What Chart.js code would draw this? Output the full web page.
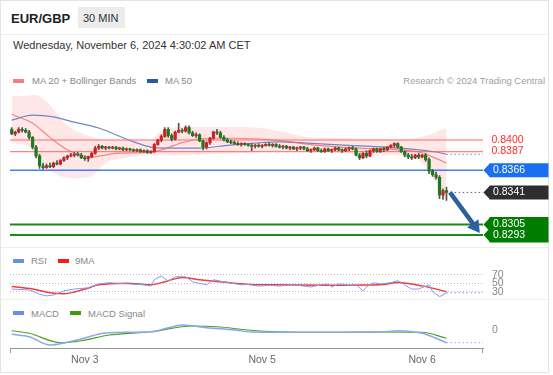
<!DOCTYPE html>
<html>
<head>
<meta charset="utf-8">
<script src="https://cdn.jsdelivr.net/npm/chart.js@4.4.1/dist/chart.umd.min.js"></script>
<style>
  body { margin: 0; width: 553px; height: 375px; background: #fff; font-family: "Liberation Sans", Arial, sans-serif; overflow: hidden; }
  .abs { position: absolute; white-space: nowrap; line-height: 1; }
  .card { position: absolute; left: 0; top: 0; width: 547px; height: 371px; border: 1px solid #e4e4e4; }
  .sep { position: absolute; left: 1px; width: 547px; height: 1px; background: #eeeeee; }
  .sw { position: absolute; width: 11px; height: 4px; }
  .leg { font-size: 9.5px; color: #888; }
  canvas { position: absolute; }
</style>
</head>
<body>
<div class="card"></div>
<div class="abs" style="left:11px;top:12px;font-size:13px;font-weight:bold;color:#222">EUR/GBP</div>
<div class="abs" style="left:78px;top:7px;width:47px;height:21px;background:#ececec"></div>
<div class="abs" style="left:83px;top:12.5px;font-size:11px;color:#333">30 MIN</div>
<div class="sep" style="top:34px"></div>
<div class="abs" style="left:13px;top:40px;font-size:11px;color:#333">Wednesday, November 6, 2024 4:30:02 AM CET</div>

<div class="sw" style="left:13px;top:79px;background:#f37f7f"></div>
<div class="abs leg" style="left:32px;top:76px">MA 20 + Bollinger Bands</div>
<div class="sw" style="left:147px;top:79px;background:#2e5a9c"></div>
<div class="abs leg" style="left:165px;top:76px">MA 50</div>
<div class="abs leg" style="right:8px;top:76px;color:#a0a0a0">Research © 2024 Trading Central</div>

<canvas id="main" width="539" height="153" style="left:10px;top:92px"></canvas>
<div class="sep" style="top:247px"></div>

<div class="sw" style="left:13px;top:259px;background:#6a8fe8"></div>
<div class="abs leg" style="left:31px;top:256px">RSI</div>
<div class="sw" style="left:58px;top:259px;background:#f01e1e"></div>
<div class="abs leg" style="left:75px;top:256px">9MA</div>
<canvas id="rsi" width="539" height="34" style="left:10px;top:264px"></canvas>
<div class="sep" style="top:299px"></div>

<div class="sw" style="left:13px;top:311px;background:#6a8fe8"></div>
<div class="abs leg" style="left:31px;top:309px">MACD</div>
<div class="sw" style="left:70px;top:311px;background:#3c9a0c"></div>
<div class="abs leg" style="left:88px;top:309px">MACD Signal</div>
<canvas id="macd" width="539" height="54" style="left:10px;top:318px"></canvas>

<script>
// 30 min candles, one entry per candle
const opens = [
  0.8412,0.8407,0.8409,0.8412,0.8411,0.8409,0.8403,0.8392,0.8382,0.8371,
  0.8369,0.8371,0.8370,0.8374,0.8373,0.8377,0.8380,0.8382,0.8383,0.8384,
  0.8383,0.8380,0.8379,0.8381,0.8385,0.8391,0.8393,0.8391,0.8392,0.8391,
  0.8392,0.8390,0.8391,0.8389,0.8390,0.8389,0.8388,0.8389,0.8387,0.8388,
  0.8386,0.8387,0.8395,0.8400,0.8404,0.8412,0.8405,0.8401,0.8409,0.8411,
  0.8410,0.8414,0.8408,0.8405,0.8406,0.8399,0.8392,0.8397,0.8402,0.8409,
  0.8408,0.8403,0.8400,0.8398,0.8397,0.8396,0.8395,0.8396,0.8395,0.8394,
  0.8393,0.8394,0.8393,0.8394,0.8395,0.8394,0.8395,0.8393,0.8392,0.8393,
  0.8391,0.8392,0.8390,0.8391,0.8392,0.8390,0.8388,0.8389,0.8391,0.8388,
  0.8387,0.8390,0.8388,0.8389,0.8391,0.8389,0.8388,0.8390,0.8391,0.8390,
  0.8383,0.8380,0.8385,0.8382,0.8388,0.8390,0.8387,0.8390,0.8389,0.8392,
  0.8394,0.8396,0.8392,0.8387,0.8383,0.8381,0.8380,0.8383,0.8381,0.8383,
  0.8378,0.8365,0.8361,0.8358,0.8338,0.8343
];
const highs = [
  0.8414,0.8410,0.8414,0.8414,0.8413,0.8411,0.8404,0.8394,0.8384,0.8374,
  0.8373,0.8374,0.8375,0.8377,0.8378,0.8381,0.8383,0.8385,0.8386,0.8386,
  0.8385,0.8382,0.8382,0.8386,0.8393,0.8395,0.8394,0.8393,0.8393,0.8393,
  0.8393,0.8392,0.8392,0.8391,0.8391,0.8390,0.8390,0.8390,0.8389,0.8389,
  0.8388,0.8396,0.8401,0.8406,0.8414,0.8414,0.8407,0.8410,0.8419,0.8413,
  0.8416,0.8416,0.8410,0.8408,0.8407,0.8400,0.8398,0.8403,0.8410,0.8412,
  0.8410,0.8405,0.8402,0.8400,0.8399,0.8398,0.8397,0.8397,0.8396,0.8396,
  0.8395,0.8396,0.8395,0.8396,0.8397,0.8396,0.8396,0.8395,0.8394,0.8394,
  0.8393,0.8393,0.8392,0.8393,0.8393,0.8392,0.8390,0.8392,0.8392,0.8390,
  0.8391,0.8391,0.8390,0.8392,0.8392,0.8390,0.8391,0.8392,0.8393,0.8391,
  0.8385,0.8386,0.8388,0.8389,0.8391,0.8391,0.8391,0.8392,0.8393,0.8395,
  0.8397,0.8397,0.8393,0.8388,0.8385,0.8384,0.8384,0.8385,0.8384,0.8385,
  0.8380,0.8367,0.8364,0.8360,0.8345,0.8347
];
const lows = [
  0.8406,0.8405,0.8408,0.8409,0.8408,0.8401,0.8390,0.8380,0.8368,0.8367,
  0.8368,0.8369,0.8369,0.8372,0.8372,0.8376,0.8378,0.8381,0.8381,0.8382,
  0.8379,0.8377,0.8376,0.8380,0.8384,0.8389,0.8390,0.8389,0.8390,0.8390,
  0.8389,0.8389,0.8388,0.8388,0.8388,0.8387,0.8387,0.8386,0.8386,0.8385,
  0.8385,0.8386,0.8394,0.8398,0.8403,0.8403,0.8399,0.8400,0.8408,0.8408,
  0.8409,0.8407,0.8404,0.8403,0.8398,0.8389,0.8390,0.8395,0.8401,0.8406,
  0.8402,0.8399,0.8397,0.8396,0.8395,0.8394,0.8393,0.8394,0.8393,0.8388,
  0.8391,0.8392,0.8391,0.8393,0.8393,0.8392,0.8392,0.8391,0.8390,0.8390,
  0.8389,0.8389,0.8388,0.8389,0.8389,0.8387,0.8386,0.8388,0.8387,0.8386,
  0.8386,0.8387,0.8386,0.8388,0.8388,0.8386,0.8387,0.8388,0.8389,0.8382,
  0.8378,0.8379,0.8380,0.8381,0.8386,0.8386,0.8386,0.8387,0.8388,0.8391,
  0.8392,0.8391,0.8386,0.8381,0.8379,0.8378,0.8379,0.8379,0.8380,0.8376,
  0.8362,0.8359,0.8356,0.8334,0.8333,0.8332
];
const closes = [
  0.8407,0.8409,0.8412,0.8411,0.8409,0.8403,0.8392,0.8382,0.8371,0.8369,
  0.8371,0.8370,0.8374,0.8373,0.8377,0.8380,0.8382,0.8383,0.8384,0.8383,
  0.8380,0.8379,0.8381,0.8385,0.8391,0.8393,0.8391,0.8392,0.8391,0.8392,
  0.8390,0.8391,0.8389,0.8390,0.8389,0.8388,0.8389,0.8387,0.8388,0.8386,
  0.8387,0.8395,0.8400,0.8404,0.8412,0.8405,0.8401,0.8409,0.8411,0.8410,
  0.8414,0.8408,0.8405,0.8406,0.8399,0.8392,0.8397,0.8402,0.8409,0.8408,
  0.8403,0.8400,0.8398,0.8397,0.8396,0.8395,0.8396,0.8395,0.8394,0.8393,
  0.8394,0.8393,0.8394,0.8395,0.8394,0.8395,0.8393,0.8392,0.8393,0.8391,
  0.8392,0.8390,0.8391,0.8392,0.8390,0.8388,0.8389,0.8391,0.8388,0.8387,
  0.8390,0.8388,0.8389,0.8391,0.8389,0.8388,0.8390,0.8391,0.8390,0.8383,
  0.8380,0.8385,0.8382,0.8388,0.8390,0.8387,0.8390,0.8389,0.8392,0.8394,
  0.8396,0.8392,0.8387,0.8383,0.8381,0.8380,0.8383,0.8381,0.8383,0.8378,
  0.8365,0.8361,0.8358,0.8338,0.8343,0.8341
];

// indicators, sampled at candle indexes
const bandIdx   = [0,4,7,10,13,15,18,22,25,27,33,40,42,46,50,57,65,72,78,85,95,105,113,117,120,122,125];
const bandUpper = [0.84495,0.8450,0.84506,0.8443,0.8430,0.8420,0.8411,0.8405,0.8401,0.8400,0.8400,0.8400,0.8407,0.84135,0.8415,0.84146,0.84146,0.84135,0.8409,0.84034,0.8402,0.8401,0.8401,0.8403,0.8406,0.8409,0.84135];
const bandLower = [0.83966,0.8394,0.8385,0.83696,0.83606,0.83585,0.8357,0.8358,0.8366,0.8374,0.8380,0.8383,0.8383,0.8383,0.8383,0.8384,0.8385,0.83865,0.8388,0.8389,0.8385,0.8383,0.8383,0.83775,0.8364,0.8352,0.8330];
const ma20Idx = [0,6,11,16,23,30,40,44,49,56,64,76,88,100,111,117,121,125];
const ma20Val = [0.8429,0.8419,0.8403,0.8389,0.8381,0.8385,0.83865,0.8390,0.8397,0.8402,0.8402,0.8400,0.8394,0.8391,0.8389,0.83865,0.8381,0.8374];
const ma50Idx = [0,6,12,17,25,35,40,44,54,62,70,77,85,97,111,117,122,125];
const ma50Val = [0.84225,0.8428,0.8426,0.8421,0.84135,0.8398,0.8392,0.8391,0.8391,0.8394,0.83966,0.8398,0.83966,0.8394,0.8391,0.8389,0.83865,0.8384];

const rsiIdx = [0,5,8,10,12,15,18,22,25,28,31,34,38,40,41,43,45,47,50,52,56,58,61,63,66,68,71,74,77,80,83,86,89,91,92,94,97,99,101,102,104,106,109,111,113,115,117,120,121,123,125];
const rsiVal = [36,34,24,20,22,32,36,39,48,51,49,48,46,43,58,67,55,65,65,53,46,58,53,50,46,47,43,45,43,46,44,41,46,48,41,48,45,46,32,41,51,48,51,56,46,36,36,46,30,18,27];
const rsiMaIdx = [0,6,11,15,21,25,33,40,45,49,54,59,64,71,76,90,106,111,118,125];
const rsiMaVal = [42,36,27.5,25,36,46,50,46,55.6,63.5,58,54,50,46,46,45,46,51.5,43.5,30];

const macdIdx = [0,5,11,15,20,27,40,45,49,56,64,69,76,92,106,111,118,122,125];
const macdVal = [-0.00017,-0.00027,-0.0006,-0.00052,-0.00036,-0.00012,-0.00007,0.00009,0.0002,0.00009,0,-0.00008,-0.00009,-0.00009,-0.00008,-0.00003,-0.00013,-0.00033,-0.00051];
const signalIdx = [0,5,14,20,28,40,52,59,68,76,94,106,118,125];
const signalVal = [-0.00003,-0.00013,-0.00051,-0.00043,-0.0002,-0.00007,0.00016,0.00013,0,-0.00007,-0.00009,-0.00008,-0.00009,-0.00033];

// key levels and forecast
const resistLevels = [0.8400, 0.8387];
const pivotLevel = 0.8366;
const supportLevels = [0.8305, 0.8293];
const arrowIdx = [126, 134.6];
const arrowPrice = [0.8341, 0.82953];

const rsiLevels = [30, 50, 70];
const macdLevels = [0];
const dayTickIdx = [21, 72, 118];
const dayTickLabels = ['Nov 3', 'Nov 5', 'Nov 6'];

const X_MIN = -0.5, X_MAX = 135.5;
const last = closes.length - 1;
const FONT = '"Liberation Sans", Arial, sans-serif';
Chart.defaults.font.family = FONT;

const pts = (xs, ys) => xs.map((x, k) => ({ x: x, y: ys[k] }));
const ext = (x, v) => [{ x: x, y: v }, { x: X_MAX, y: v }];

function levelLine(v, color, width) {
  return { type: 'line', data: ext(X_MIN, v), borderColor: color, borderWidth: width, pointRadius: 0, order: 7 };
}

function fixAxis(w) {
  return function (a) { a.width = w; a.paddingTop = 0; a.paddingBottom = 0; };
}

const baseOptions = {
  responsive: false,
  animation: false,
  devicePixelRatio: 1,
  layout: { autoPadding: false },
  plugins: { legend: { display: false }, tooltip: { enabled: false } }
};

function flag(ctx, x0, x1, top, bottom, tips, color) {
  ctx.fillStyle = color;
  ctx.beginPath();
  ctx.rect(x0 + 6, top, x1 - x0 - 6, bottom - top);
  ctx.fill();
  tips.forEach(t => {
    ctx.beginPath();
    ctx.moveTo(x0, t);
    ctx.lineTo(x0 + 6.5, t - 7);
    ctx.lineTo(x0 + 6.5, t + 7);
    ctx.closePath();
    ctx.fill();
  });
}

const tagPlugin = {
  id: 'tags',
  afterDatasetsDraw(chart) {
    const { ctx, scales } = chart;
    const ax = arrowIdx.map(v => scales.x.getPixelForValue(v));
    const ay = arrowPrice.map(v => scales.y.getPixelForValue(v));
    const dx = ax[1] - ax[0], dy = ay[1] - ay[0];
    const len = Math.hypot(dx, dy), ux = dx / len, uy = dy / len;
    const L = 12, W = 7;
    const bx = ax[1] - ux * L, by = ay[1] - uy * L;
    ctx.save();
    ctx.strokeStyle = '#2d5fa3';
    ctx.fillStyle = '#2d5fa3';
    ctx.lineWidth = 4.5;
    ctx.beginPath();
    ctx.moveTo(ax[0], ay[0]);
    ctx.lineTo(bx + ux, by + uy);
    ctx.stroke();
    ctx.beginPath();
    ctx.moveTo(ax[1], ay[1]);
    ctx.lineTo(bx - uy * W, by + ux * W);
    ctx.lineTo(bx + uy * W, by - ux * W);
    ctx.closePath();
    ctx.fill();
    ctx.restore();
  },
  afterDraw(chart) {
    const { ctx, chartArea, scales } = chart;
    const y = scales.y;
    const x0 = chartArea.right + 0.5, x1 = chart.width - 0.5, tx = chartArea.right + 10;
    ctx.save();
    ctx.font = '10.5px ' + FONT;
    ctx.textBaseline = 'middle';
    ctx.fillStyle = '#ff2a2a';
    resistLevels.forEach(v => ctx.fillText(v.toFixed(4), tx - 1.5, y.getPixelForValue(v)));

    const py = y.getPixelForValue(pivotLevel);
    flag(ctx, x0, x1, py - 7, py + 7, [py], '#1a6ef2');
    const ly = y.getPixelForValue(closes[last]);
    flag(ctx, x0, x1, ly - 7, ly + 7, [ly], '#2e2e2e');
    const sy = supportLevels.map(v => y.getPixelForValue(v));
    flag(ctx, x0, x1, sy[0] - 7.5, sy[1] + 7.5, sy, '#007d00');

    ctx.fillStyle = '#fff';
    ctx.fillText(pivotLevel.toFixed(4), tx, py);
    ctx.fillText(closes[last].toFixed(4), tx, ly);
    supportLevels.forEach((v, k) => ctx.fillText(v.toFixed(4), tx, sy[k]));
    ctx.restore();
  }
};

new Chart(document.getElementById('main'), {
  type: 'bar',
  data: {
    datasets: [
      { type: 'line', data: pts(bandIdx, bandUpper), borderWidth: 0, pointRadius: 0, fill: '+1',
        backgroundColor: 'rgba(255,70,70,0.13)', cubicInterpolationMode: 'monotone', order: 10 },
      { type: 'line', data: pts(bandIdx, bandLower), borderWidth: 0, pointRadius: 0, fill: false,
        cubicInterpolationMode: 'monotone', order: 9 },
      { type: 'line', data: pts(ma20Idx, ma20Val), borderColor: 'rgba(240,100,100,0.75)', borderWidth: 1.2,
        pointRadius: 0, cubicInterpolationMode: 'monotone', order: 8 },
      { type: 'line', data: pts(ma50Idx, ma50Val), borderColor: '#6f88c4', borderWidth: 1.2,
        pointRadius: 0, cubicInterpolationMode: 'monotone', order: 8 },
      { type: 'line', data: ext(ma50Idx[ma50Idx.length - 1], ma50Val[ma50Val.length - 1]), borderColor: '#6f88c4',
        borderWidth: 1.2, borderDash: [1.5, 2.5], pointRadius: 0, order: 8 },
      levelLine(resistLevels[0], 'rgba(255,110,110,0.7)', 1.5),
      levelLine(resistLevels[1], 'rgba(255,90,90,0.75)', 1.2),
      levelLine(pivotLevel, '#3f80f0', 1.5),
      levelLine(supportLevels[0], '#1a8a1a', 2),
      levelLine(supportLevels[1], '#1a8a1a', 2),
      { type: 'bar', data: lows.map((l, i) => ({ x: i, y: [l, highs[i]] })), backgroundColor: '#555',
        barThickness: 1, grouped: false, order: 6 },
      { type: 'bar', data: opens.map((o, i) => ({ x: i, y: [o, closes[i]] })),
        backgroundColor: opens.map((o, i) => closes[i] > o ? '#d81e1e' : (closes[i] < o ? '#1d7a1d' : '#555')),
        barThickness: 2.6, minBarLength: 1, grouped: false, order: 5 },
      { type: 'line', data: ext(last + 1.2, closes[last]), borderColor: '#666', borderWidth: 1,
        borderDash: [1.5, 2.5], pointRadius: 0, order: 4 }
    ]
  },
  options: Object.assign({}, baseOptions, {
    layout: { autoPadding: false, padding: { right: 66 } },
    scales: {
      x: { type: 'linear', min: X_MIN, max: X_MAX, display: false, offset: false },
      y: { min: 0.82818, max: 0.84541, display: false }
    }
  }),
  plugins: [tagPlugin]
});

new Chart(document.getElementById('rsi'), {
  type: 'line',
  data: {
    datasets: [
      { data: pts(rsiIdx, rsiVal), borderColor: '#7d9ef2', borderWidth: 1, pointRadius: 0 },
      { data: pts(rsiMaIdx, rsiMaVal), borderColor: '#f03c3c', borderWidth: 1.5, pointRadius: 0,
        cubicInterpolationMode: 'monotone' },
      { data: ext(last, rsiVal[rsiVal.length - 1]), borderColor: '#7d9ef2', borderWidth: 1,
        borderDash: [1.5, 2.5], pointRadius: 0 }
    ]
  },
  options: Object.assign({}, baseOptions, {
    scales: {
      x: { type: 'linear', min: X_MIN, max: X_MAX, display: false },
      y: {
        position: 'right', min: 15, max: 95,
        afterFit: fixAxis(66),
        afterBuildTicks: a => { a.ticks = rsiLevels.map(v => ({ value: v })); },
        grid: { color: '#bdbdbd', drawTicks: false },
        border: { display: false, dash: [1, 2] },
        ticks: { padding: 9, color: '#888', font: { size: 10.5 }, autoSkip: false }
      }
    }
  })
});

const endTicks = {
  id: 'endTicks',
  afterDraw(chart) {
    const { ctx, chartArea } = chart;
    ctx.save();
    ctx.strokeStyle = '#999';
    ctx.lineWidth = 1;
    ctx.beginPath();
    ctx.moveTo(chartArea.left + 0.5, chartArea.bottom);
    ctx.lineTo(chartArea.left + 0.5, chartArea.bottom + 5);
    ctx.moveTo(chartArea.right - 0.5, chartArea.bottom);
    ctx.lineTo(chartArea.right - 0.5, chartArea.bottom + 5);
    ctx.stroke();
    ctx.restore();
  }
};

new Chart(document.getElementById('macd'), {
  type: 'line',
  data: {
    datasets: [
      { data: pts(macdIdx, macdVal), borderColor: '#8aa6f0', borderWidth: 1.5, pointRadius: 0,
        cubicInterpolationMode: 'monotone' },
      { data: pts(signalIdx, signalVal), borderColor: '#4aa020', borderWidth: 1.2, pointRadius: 0,
        cubicInterpolationMode: 'monotone' },
      { data: ext(last, macdVal[macdVal.length - 1]), borderColor: '#8aa6f0', borderWidth: 1.2,
        borderDash: [1.5, 2.5], pointRadius: 0 }
    ]
  },
  options: Object.assign({}, baseOptions, {
    scales: {
      x: {
        type: 'linear', min: X_MIN, max: X_MAX,
        afterFit: a => { a.height = 24; a.paddingLeft = 0; a.paddingRight = 0; },
        afterBuildTicks: a => { a.ticks = dayTickIdx.map(v => ({ value: v })); },
        grid: { display: false, drawTicks: false },
        border: { display: true, color: '#999', width: 1 },
        ticks: {
          padding: 6, color: '#666', font: { size: 10.5 }, maxRotation: 0, autoSkip: false,
          callback: v => dayTickLabels[dayTickIdx.indexOf(v)]
        }
      },
      y: {
        position: 'right', min: -0.00072, max: 0.00048,
        afterFit: fixAxis(66),
        afterBuildTicks: a => { a.ticks = macdLevels.map(v => ({ value: v })); },
        grid: { display: false, drawTicks: false },
        border: { display: false },
        ticks: { padding: 9, color: '#888', font: { size: 10.5 }, callback: v => String(v) }
      }
    }
  }),
  plugins: [endTicks]
});
</script>
</body>
</html>
